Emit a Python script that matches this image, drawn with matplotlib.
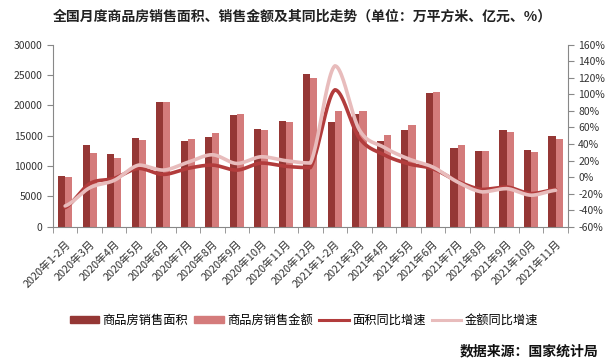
import numpy as np
import matplotlib.pyplot as plt
import matplotlib.transforms as mtransforms
from matplotlib.lines import Line2D
from matplotlib.patches import Patch

plt.rcParams['font.family'] = ['Noto Sans CJK SC', 'DejaVu Sans']

months = ['2020年1-2月', '2020年3月', '2020年4月', '2020年5月', '2020年6月',
          '2020年7月', '2020年8月', '2020年9月', '2020年10月', '2020年11月',
          '2020年12月', '2021年1-2月', '2021年3月', '2021年4月', '2021年5月',
          '2021年6月', '2021年7月', '2021年8月', '2021年9月', '2021年10月',
          '2021年11月']
area = [8370, 13490, 12000, 14650, 20590, 14150, 14810, 18440, 16130, 17450,
        25210, 17290, 18610, 14150, 15960, 22080, 12990, 12500, 15960, 12660,
        14980]
amount = [8200, 12170, 11340, 14310, 20590, 14480, 15470, 18610, 15960, 17290,
          24540, 19100, 19100, 15140, 16790, 22240, 13490, 12500, 15630, 12330,
          14480]
area_yoy = [-37, -8, -1.6, 10.5, 3.2, 10.5, 14.5, 8.4, 17, 13, 11.4,
            105.6, 47, 27, 16, 10, -5, -15, -12, -20, -15]
amount_yoy = [-35, -13, -4, 14.5, 8.4, 17.8, 27, 16.4, 24.6, 19.8, 17,
              134.6, 57, 36, 22, 12, -6, -18, -14, -22, -16]

c_area = '#953735'
c_amount = '#d47b7b'
c_area_line = '#b23c3c'
c_amount_line = '#e8bcbc'


def smooth(x, y, n=24):
    # catmull-rom style bezier, control points kept inside each segment's range
    x = np.asarray(x, float)
    y = np.asarray(y, float)
    py = np.concatenate([[y[0]], y, [y[-1]]])
    t = np.linspace(0, 1, n)
    b = [(1 - t) ** 3, 3 * (1 - t) ** 2 * t, 3 * (1 - t) * t ** 2, t ** 3]
    xs, ys = [], []
    for i in range(len(x) - 1):
        h = x[i + 1] - x[i]
        lo, hi = min(y[i], y[i + 1]), max(y[i], y[i + 1])
        c1 = np.clip(y[i] + (py[i + 2] - py[i]) / 6, lo, hi)
        c2 = np.clip(y[i + 1] - (py[i + 3] - py[i + 1]) / 6, lo, hi)
        px = [x[i], x[i] + h / 3, x[i + 1] - h / 3, x[i + 1]]
        pv = [y[i], c1, c2, y[i + 1]]
        xs.extend(sum(b[k] * px[k] for k in range(4)))
        ys.extend(sum(b[k] * pv[k] for k in range(4)))
    return np.array(xs), np.array(ys)


fig = plt.figure(figsize=(6.08, 3.62), dpi=100)
ax = fig.add_axes([0.087, 0.374, 0.847, 0.502])
ax2 = ax.twinx()

x = np.arange(len(months))
w = 0.29
ax.bar(x - w / 2, area, w, color=c_area, zorder=2)
ax.bar(x + w / 2, amount, w, color=c_amount, zorder=2)

sx, sy = smooth(x, area_yoy)
ax2.plot(sx, sy, color=c_area_line, lw=2.6, solid_capstyle='round', zorder=3)
sx, sy = smooth(x, amount_yoy)
ax2.plot(sx, sy, color=c_amount_line, lw=2.6, solid_capstyle='round', zorder=4)

ax.set_xlim(-0.5, len(months) - 0.5)
ax.set_ylim(0, 30000)
ax.set_yticks(range(0, 30001, 5000))
ax2.set_ylim(-60, 160)
ax2.set_yticks(range(-60, 161, 20))
ax2.set_yticklabels([f'{v}%' for v in range(-60, 161, 20)])

ax.set_xticks(x)
ax.set_xticklabels(months, rotation=45, ha='right', rotation_mode='anchor')
shift = mtransforms.ScaledTranslation(6 / 100, 0, fig.dpi_scale_trans)
for lab in ax.get_xticklabels():
    lab.set_transform(lab.get_transform() + shift)
ax.set_xticks(np.arange(-0.5, len(months), 1), minor=True)
ax.tick_params(axis='x', which='major', length=0, labelsize=7.8, colors='#333333', pad=9)
ax.tick_params(axis='x', which='minor', length=4, color='#888888')
ax.tick_params(axis='y', labelsize=7.5, colors='#333333', length=4, color='#888888')
ax2.tick_params(axis='y', labelsize=7.5, colors='#333333', length=4, color='#888888')
for a in (ax, ax2):
    a.spines['top'].set_visible(False)
    for s in ('left', 'right', 'bottom'):
        a.spines[s].set_color('#888888')
        a.spines[s].set_linewidth(0.8)
ax.spines['right'].set_visible(False)
ax2.spines['left'].set_visible(False)
ax2.spines['bottom'].set_visible(False)

fig.text(0.497, 0.955, '全国月度商品房销售面积、销售金额及其同比走势（单位：万平方米、亿元、%）',
         ha='center', va='center', fontsize=10, fontweight='bold', color='#222222')

handles = [Patch(color=c_area), Patch(color=c_amount),
           Line2D([], [], color=c_area_line, lw=2.2),
           Line2D([], [], color=c_amount_line, lw=2.2)]
labels = ['商品房销售面积', '商品房销售金额', '面积同比增速', '金额同比增速']
fig.legend(handles, labels, loc='center', bbox_to_anchor=(0.5, 0.115), ncol=4,
           frameon=False, fontsize=8.8, handlelength=2.4, handleheight=0.6,
           columnspacing=0.5, handletextpad=0.3)

fig.text(0.985, 0.028, '数据来源：国家统计局', ha='right', va='center',
         fontsize=10, fontweight='bold', color='#111111')

fig.savefig('out.png', dpi=100)
